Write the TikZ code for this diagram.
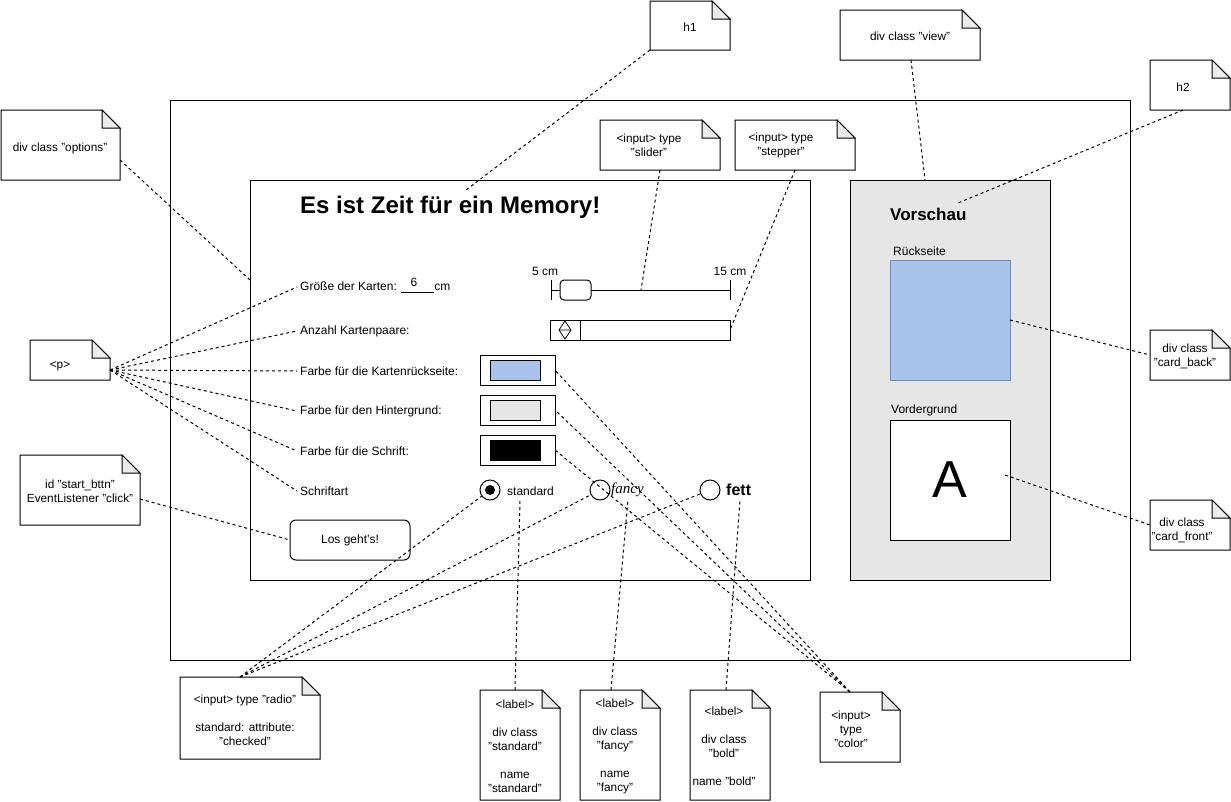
\documentclass[tikz,border=0pt]{standalone}
\usepackage{fontspec}
\setmainfont{Liberation Sans}
\newfontfamily\fancyfont{Liberation Serif}
\usetikzlibrary{calc}

\definecolor{cardblue}{HTML}{A9C4EB}
\definecolor{cardedge}{HTML}{6C8EBF}
\definecolor{viewgray}{HTML}{E6E6E6}
\definecolor{notegray}{HTML}{EBEBEB}

\tikzset{
  link/.style={draw, line width=1pt, dash pattern=on 3pt off 3pt},
  notebase/.style={inner sep=0pt, outer sep=0pt},
  noteline/.style={draw, fill=white, line width=1pt, line join=miter},
  notefold/.style={draw, fill=notegray, line width=1pt},
  notetext/.style={font=\fontsize{11.8}{14}\selectfont, align=center, inner sep=0pt},
  boxline/.style={draw, line width=1pt, inner sep=0pt, outer sep=0pt},
  rowlabel/.style={anchor=west, inner ysep=0pt, inner xsep=3pt, font=\fontsize{12}{14}\selectfont},
  plaintext/.style={inner sep=0pt, font=\fontsize{12}{14}\selectfont},
  radio/.style={draw, circle, line width=1pt, minimum size=20pt, inner sep=0pt, fill=white},
}

% #1 name, #2 x, #3 y (centre), #4 width, #5 height
\newcommand{\memonote}[5]{%
  \node[notebase, minimum width=#4pt, minimum height=#5pt] (#1) at (#2,#3) {};
  \draw[noteline] (#1.north west) -- ([xshift=-18pt]#1.north east)
    -- ([yshift=-18pt]#1.north east) -- (#1.south east) -- (#1.south west) -- cycle;
  \draw[notefold] ([xshift=-18pt]#1.north east) -- ([xshift=-18pt,yshift=-18pt]#1.north east)
    -- ([yshift=-18pt]#1.north east) -- cycle;
}

\begin{document}
\begin{tikzpicture}[x=1pt,y=-1pt]
    \useasboundingbox (0,0) rectangle (1231,801);

    \node[boxline, minimum width=960pt, minimum height=560pt] (page) at (650,380) {};
    \node[boxline, minimum width=560pt, minimum height=400pt] (options) at (530,380) {};
    \node[boxline, fill=viewgray, minimum width=200pt, minimum height=400pt] (view) at (950,380) {};

    \node[anchor=west, inner sep=0pt, font=\bfseries\fontsize{24}{28}\selectfont] (title) at (300,207) {Es ist Zeit für ein Memory!};

    \node[rowlabel] (lblsize) at (297,287) {Größe der Karten: \rule[-2.5pt]{33pt}{0.7pt}cm};
    \node[plaintext] (sizeval) at (414,282) {6};
    \node[rowlabel] (lblpairs) at (297,331) {Anzahl Kartenpaare:};
    \node[rowlabel] (lblback) at (297,371) {Farbe für die Kartenrückseite:};
    \node[rowlabel] (lblbg) at (297,411) {Farbe für den Hintergrund:};
    \node[rowlabel] (lblfont) at (297,451) {Farbe für die Schrift:};
    \node[rowlabel] (lblstyle) at (297,491) {Schriftart};

    \draw[line width=1pt] (551,280) -- (551,300);
    \draw[line width=1pt] (730,280) -- (730,300);
    \draw[line width=1pt] (551,290) -- (730,290);
    \node[boxline, fill=white, rounded corners=4pt, minimum width=31pt, minimum height=20pt] (knob) at (575.5,290) {};
    \node[plaintext] (min) at (545,271) {5 cm};
    \node[plaintext] (max) at (730,271) {15 cm};
    \coordinate (sliderpt) at (641,290);

    \node[boxline, minimum width=180pt, minimum height=20pt] (stepper) at (640,330) {};
    \draw[line width=1pt] (580,320) -- (580,340);
    \draw[line width=0.8pt] (565,321) -- (571,330) -- (565,339) -- (559,330) -- cycle (559,330) -- (571,330);

    \node[boxline, minimum width=75pt, minimum height=30pt] (colback) at (517.5,370) {};
    \node[boxline, fill=cardblue, minimum width=50pt, minimum height=20pt] (colbackin) at (515,370) {};
    \node[boxline, minimum width=75pt, minimum height=30pt] (colbg) at (517.5,410) {};
    \node[boxline, fill=viewgray, minimum width=50pt, minimum height=20pt] (colbgin) at (515,410) {};
    \node[boxline, minimum width=75pt, minimum height=30pt] (colfont) at (517.5,450) {};
    \node[boxline, fill=black, minimum width=50pt, minimum height=20pt] (colfontin) at (515,450) {};

    \node[radio] (radstd) at (490,490) {};
    \fill (radstd) circle (5);
    \node[plaintext, anchor=west] (txtstd) at (507,491) {standard};
    \node[radio] (radfancy) at (600,490) {};
    \node[anchor=west, inner sep=0pt, font=\fancyfont\itshape\fontsize{15}{16}\selectfont] (txtfancy) at (611,490) {fancy};
    \node[radio] (radbold) at (710,490) {};
    \node[anchor=west, inner sep=0pt, font=\bfseries\fontsize{16}{18}\selectfont] (txtbold) at (726,490) {fett};
    \coordinate (stdpt) at (520,500);
    \coordinate (fancypt) at (628,500);
    \coordinate (boldpt) at (740,500);

    \node[boxline, fill=white, rounded corners=6pt, minimum width=120pt, minimum height=40pt, font=\fontsize{12}{14}\selectfont] (startbtn) at (350,540) {Los geht's!};

    \node[anchor=west, inner sep=0pt, font=\bfseries\fontsize{17}{20}\selectfont] (preview) at (890,214) {Vorschau};
    \node[plaintext, anchor=west] (lblrear) at (893,251) {Rückseite};
    \node[boxline, draw=cardedge, fill=cardblue, minimum width=120pt, minimum height=120pt] (cardback) at (950,320) {};
    \node[plaintext, anchor=west] (lblfront) at (891,410) {Vordergrund};
    \node[boxline, fill=white, minimum width=120pt, minimum height=120pt, font=\fontsize{52}{56}\selectfont] (cardfront) at (950,480) {A};

    \memonote{optnote}{60.5}{145}{119}{70}
    \node[notetext] (optnotetxt) at (60,148) {div class "options"};
    \memonote{h1note}{690}{25.5}{80}{49}
    \node[notetext] (h1notetxt) at (690,27) {h1};
    \memonote{viewnote}{910}{35}{140}{50}
    \node[notetext] (viewnotetxt) at (910,36) {div class "view"};
    \memonote{h2note}{1190}{85}{80}{50}
    \node[notetext] (h2notetxt) at (1183,87) {h2};
    \memonote{slidernote}{660}{145}{120}{50}
    \node[notetext] (slidernotetxt) at (649,145) {<input> type\\"slider"};
    \memonote{steppernote}{795}{145}{120}{50}
    \node[notetext] (steppernotetxt) at (781,145) {<input> type\\"stepper"};
    \memonote{pnote}{70}{360}{80}{40}
    \node[notetext] (pnotetxt) at (60,366) {<p>};
    \memonote{startnote}{80}{490}{120}{70}
    \node[notetext] (startnotetxt) at (80,491) {id "start\_bttn"\\EventListener "click"};
    \memonote{cardbacknote}{1190}{355}{80}{50}
    \node[notetext] (cardbacknotetxt) at (1185,356) {div class\\"card\_back"};
    \memonote{cardfrontnote}{1190}{525}{80}{50}
    \node[notetext] (cardfrontnotetxt) at (1182,530) {div class\\"card\_front"};
    \memonote{radionote}{250}{718}{140}{82}
    \node[notetext] (radionotetxt) at (245,720) {<input> type "radio"\\[14pt]standard: attribute:\\"checked"};
    \memonote{stdnote}{520}{745}{80}{110}
    \node[notetext] (stdnotetxt) at (515,746) {<label>\\[14pt]div class\\"standard"\\[14pt]name\\"standard"};
    \memonote{fancynote}{620}{745}{80}{110}
    \node[notetext] (fancynotetxt) at (615,746) {<label>\\[14pt]div class\\"fancy"\\[14pt]name\\"fancy"};
    \memonote{boldnote}{730}{745}{80}{110}
    \node[notetext] (boldnotetxt) at (724,746) {<label>\\[14pt]div class\\"bold"\\[14pt]name "bold"};
    \memonote{colornote}{860}{727}{80}{70}
    \node[notetext] (colornotetxt) at (851,729) {<input>\\type\\"color"};

    \coordinate (optpt) at (250,280);
    \coordinate (titlept) at (466,190);
    \coordinate (viewpt) at (925,180);
    \coordinate (h2pt) at (958,203);

    \draw[link] ([yshift=-15pt]optnote.east) -- (optpt);
    \draw[link] (h1note.south west) -- (titlept);
    \draw[link] ([xshift=1pt]viewnote.south) -- (viewpt);
    \draw[link] ([xshift=-7pt]h2note.south) -- (h2pt);
    \draw[link] (slidernote.south) -- (sliderpt);
    \draw[link] (steppernote.south) -- (stepper.east);
    \foreach \row in {lblsize,lblpairs,lblback,lblbg,lblfont,lblstyle}
        \draw[link] ([yshift=-10pt]pnote.east) -- (\row.west);
    \draw[link] ([yshift=-9pt]startnote.east) -- (startbtn.west);
    \foreach \rad in {radstd,radfancy,radbold}
        \draw[link] ([xshift=-10pt]radionote.north) -- (\rad);
    \draw[link] ([xshift=-5pt]stdnote.north) -- (stdpt);
    \draw[link] ([xshift=-9pt]fancynote.north) -- (fancypt);
    \draw[link] ([xshift=-4pt]boldnote.north) -- (boldpt);
    \foreach \col in {colback,colbg,colfont}
        \draw[link] ([xshift=-10pt]colornote.north) -- (\col.east);
    \draw[link] (cardback.east) -- (cardbacknote.west);
    \draw[link] ([xshift=-5pt,yshift=5pt]cardfront.east) -- (cardfrontnote.west);
\end{tikzpicture}
\end{document}
